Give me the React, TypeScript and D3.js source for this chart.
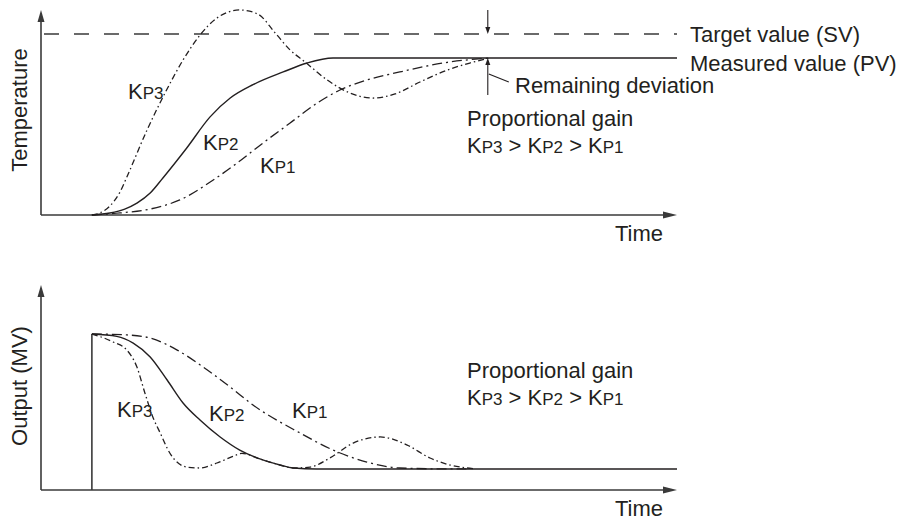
import React from "react";
import * as d3 from "d3";

const W = 903;
const H = 522;

// ---------- Top chart: Temperature vs Time (PV steady level = 1) ----------
const tempKp1T = [0.96, 1.49, 2.06, 2.62, 3.25, 3.7, 4.19, 4.7, 5.21, 5.64, 6.15, 6.77, 7.72, 8.47];
const tempKp1V = [0, 0.013, 0.038, 0.096, 0.223, 0.331, 0.459, 0.586, 0.713, 0.796, 0.86, 0.911, 0.975, 1.0];

const tempKp2T = [0.96, 1.3, 1.58, 1.81, 2.06, 2.3, 2.75, 3.19, 3.57, 4.0, 4.57, 5.02, 5.51, 12];
const tempKp2V = [0, 0.013, 0.038, 0.076, 0.14, 0.236, 0.427, 0.625, 0.745, 0.83, 0.911, 0.968, 1.0, 1.0];

const tempKp3T = [0.96, 1.11, 1.3, 1.49, 1.62, 2.0, 2.34, 2.68, 3.0, 3.32, 3.75, 4.09, 4.42, 4.7, 4.98, 5.4, 5.83, 6.26, 6.68, 7.15, 7.72, 8.09, 8.47];
const tempKp3V = [0, 0.013, 0.057, 0.146, 0.242, 0.541, 0.777, 0.987, 1.146, 1.255, 1.306, 1.28, 1.159, 1.051, 0.975, 0.86, 0.777, 0.745, 0.771, 0.847, 0.93, 0.968, 1.0];

const targetSV = 1.153;

// ---------- Bottom chart: Output (MV) vs Time (initial output = 1) ----------
const outStepT = 0.96;

const outKp1T = [0.96, 1.62, 2.06, 2.57, 3.06, 3.57, 4.0, 4.89, 5.51, 6.15, 6.77, 7.72, 8.09];
const outKp1V = [1.0, 0.994, 0.974, 0.897, 0.788, 0.66, 0.545, 0.365, 0.256, 0.179, 0.141, 0.135, 0.135];

const outKp2T = [0.96, 1.43, 1.74, 2.06, 2.38, 2.68, 3.0, 3.38, 3.75, 4.13, 4.51, 4.76, 5.2, 12];
const outKp2V = [1.0, 0.985, 0.942, 0.853, 0.705, 0.558, 0.449, 0.34, 0.256, 0.199, 0.16, 0.141, 0.135, 0.135];

const outKp3T = [0.96, 1.36, 1.62, 1.81, 1.96, 2.11, 2.25, 2.43, 2.75, 3.0, 3.32, 3.62, 3.79, 4.13, 4.51, 4.76, 5.08, 5.45, 5.89, 6.4, 6.91, 7.34, 7.72, 8.04, 8.19];
const outKp3V = [1.0, 0.949, 0.897, 0.788, 0.622, 0.468, 0.365, 0.237, 0.147, 0.141, 0.173, 0.215, 0.235, 0.199, 0.16, 0.141, 0.147, 0.205, 0.301, 0.34, 0.288, 0.205, 0.16, 0.141, 0.135];

// Axis extents (data units)
const timeMax = 12;
const topAxisMax = 1.306;
const botAxisMax = 1.314;

// Texts
const yLabelTop = "Temperature";
const yLabelBot = "Output (MV)";
const xLabel = "Time";
const svLabel = "Target value (SV)";
const pvLabel = "Measured value (PV)";
const devLabel = "Remaining deviation";
const gainTitle = "Proportional gain";

const FONT = "'Liberation Sans', Arial, Helvetica, sans-serif";
const INK = "#231f20";
const AXIS = "#3a3a3a";

const x = d3.scaleLinear().domain([0, timeMax]).range([41, 677]);
const yTop = d3.scaleLinear().domain([0, 1]).range([215, 58]);
const yBot = d3.scaleLinear().domain([0, 1]).range([490, 334]);

function pathFor(ts: number[], vs: number[], ys: d3.ScaleLinear<number, number>) {
  const pts: [number, number][] = ts.map((t, i) => [t, vs[i]]);
  return (
    d3
      .line<[number, number]>()
      .x((d) => x(d[0]))
      .y((d) => ys(d[1]))
      .curve(d3.curveMonotoneX)(pts) || ""
  );
}

const KLabel = ({ x0, y0, n }: { x0: number; y0: number; n: number }) => (
  <text x={x0} y={y0} fontFamily={FONT} fill={INK}>
    <tspan fontSize={22}>K</tspan>
    <tspan fontSize={17}>{"P" + n}</tspan>
  </text>
);

const GainOrder = ({ x0, y0 }: { x0: number; y0: number }) => (
  <text x={x0} y={y0} fontFamily={FONT} fill={INK} fontSize={22}>
    <tspan>K</tspan>
    <tspan fontSize={17}>P3</tspan>
    <tspan>{" > K"}</tspan>
    <tspan fontSize={17}>P2</tspan>
    <tspan>{" > K"}</tspan>
    <tspan fontSize={17}>P1</tspan>
  </text>
);

const Axes = ({ ys, top }: { ys: d3.ScaleLinear<number, number>; top: number }) => {
  const x0 = x(0);
  const x1 = x(timeMax);
  const y0 = ys(0);
  const yt = ys(top);
  return (
    <g>
      <line x1={x0} y1={y0} x2={x0} y2={yt + 10} stroke={AXIS} strokeWidth={1.6} />
      <path d={`M${x0},${yt} L${x0 - 3.5},${yt + 12} L${x0 + 3.5},${yt + 12} Z`} fill={AXIS} />
      <line x1={x0} y1={y0} x2={x1 - 12} y2={y0} stroke={AXIS} strokeWidth={1.6} />
      <path d={`M${x1},${y0} L${x1 - 14},${y0 - 3.5} L${x1 - 14},${y0 + 3.5} Z`} fill={AXIS} />
    </g>
  );
};

export default function App() {
  const devX = x(8.43);
  return (
    <div style={{ position: "absolute", left: 0, top: 0 }}>
      <svg width={W} height={H} style={{ display: "block", background: "#fff" }}>
        {/* ---------- Top chart ---------- */}
        <Axes ys={yTop} top={topAxisMax} />
        <line
          x1={44}
          x2={x(timeMax)}
          y1={yTop(targetSV)}
          y2={yTop(targetSV)}
          stroke={AXIS}
          strokeWidth={1.4}
          strokeDasharray="15 15"
        />
        <path d={pathFor(tempKp1T, tempKp1V, yTop)} fill="none" stroke={INK} strokeWidth={1.3} strokeDasharray="10 4 2 4" />
        <path d={pathFor(tempKp3T, tempKp3V, yTop)} fill="none" stroke={INK} strokeWidth={1.3} strokeDasharray="6 3 1.5 3" />
        <path d={pathFor(tempKp2T, tempKp2V, yTop)} fill="none" stroke={INK} strokeWidth={1.4} />

        {/* deviation arrows */}
        <line x1={devX} x2={devX} y1={yTop(topAxisMax)} y2={yTop(targetSV) - 5} stroke={INK} strokeWidth={1.1} />
        <path d={`M${devX},${yTop(targetSV)} L${devX - 2.5},${yTop(targetSV) - 7} L${devX + 2.5},${yTop(targetSV) - 7} Z`} fill={INK} />
        <line x1={devX} x2={devX} y1={yTop(0.764)} y2={yTop(1) + 5} stroke={INK} strokeWidth={1.1} />
        <path d={`M${devX},${yTop(1)} L${devX - 2.5},${yTop(1) + 7} L${devX + 2.5},${yTop(1) + 7} Z`} fill={INK} />
        <line x1={devX + 1} y1={74} x2={devX + 21} y2={82} stroke={INK} strokeWidth={1.1} />

        <text x={690} y={42} fontFamily={FONT} fontSize={22} fill={INK}>{svLabel}</text>
        <text x={690} y={71} fontFamily={FONT} fontSize={22} fill={INK}>{pvLabel}</text>
        <text x={515} y={93} fontFamily={FONT} fontSize={22} fill={INK}>{devLabel}</text>
        <text x={467} y={126} fontFamily={FONT} fontSize={22} fill={INK}>{gainTitle}</text>
        <GainOrder x0={467} y0={153} />

        <KLabel x0={128} y0={99} n={3} />
        <KLabel x0={203} y0={150} n={2} />
        <KLabel x0={260} y0={173} n={1} />

        <text x={663} y={241} textAnchor="end" fontFamily={FONT} fontSize={22} fill={INK}>{xLabel}</text>
        <text
          transform={`translate(27,${110}) rotate(-90)`}
          textAnchor="middle"
          fontFamily={FONT}
          fontSize={22}
          fill={INK}
        >
          {yLabelTop}
        </text>

        {/* ---------- Bottom chart ---------- */}
        <Axes ys={yBot} top={botAxisMax} />
        <line x1={x(outStepT)} x2={x(outStepT)} y1={yBot(0)} y2={yBot(1)} stroke={AXIS} strokeWidth={1.6} />
        <path d={pathFor(outKp1T, outKp1V, yBot)} fill="none" stroke={INK} strokeWidth={1.3} strokeDasharray="10 4 2 4" />
        <path d={pathFor(outKp3T, outKp3V, yBot)} fill="none" stroke={INK} strokeWidth={1.3} strokeDasharray="6 3 1.5 3" />
        <path d={pathFor(outKp2T, outKp2V, yBot)} fill="none" stroke={INK} strokeWidth={1.4} />

        <KLabel x0={117} y0={417} n={3} />
        <KLabel x0={209} y0={421} n={2} />
        <KLabel x0={292} y0={418} n={1} />

        <text x={467} y={378} fontFamily={FONT} fontSize={22} fill={INK}>{gainTitle}</text>
        <GainOrder x0={467} y0={405} />

        <text x={663} y={516} textAnchor="end" fontFamily={FONT} fontSize={22} fill={INK}>{xLabel}</text>
        <text
          transform={`translate(27,${386}) rotate(-90)`}
          textAnchor="middle"
          fontFamily={FONT}
          fontSize={22}
          fill={INK}
        >
          {yLabelBot}
        </text>
      </svg>
    </div>
  );
}
